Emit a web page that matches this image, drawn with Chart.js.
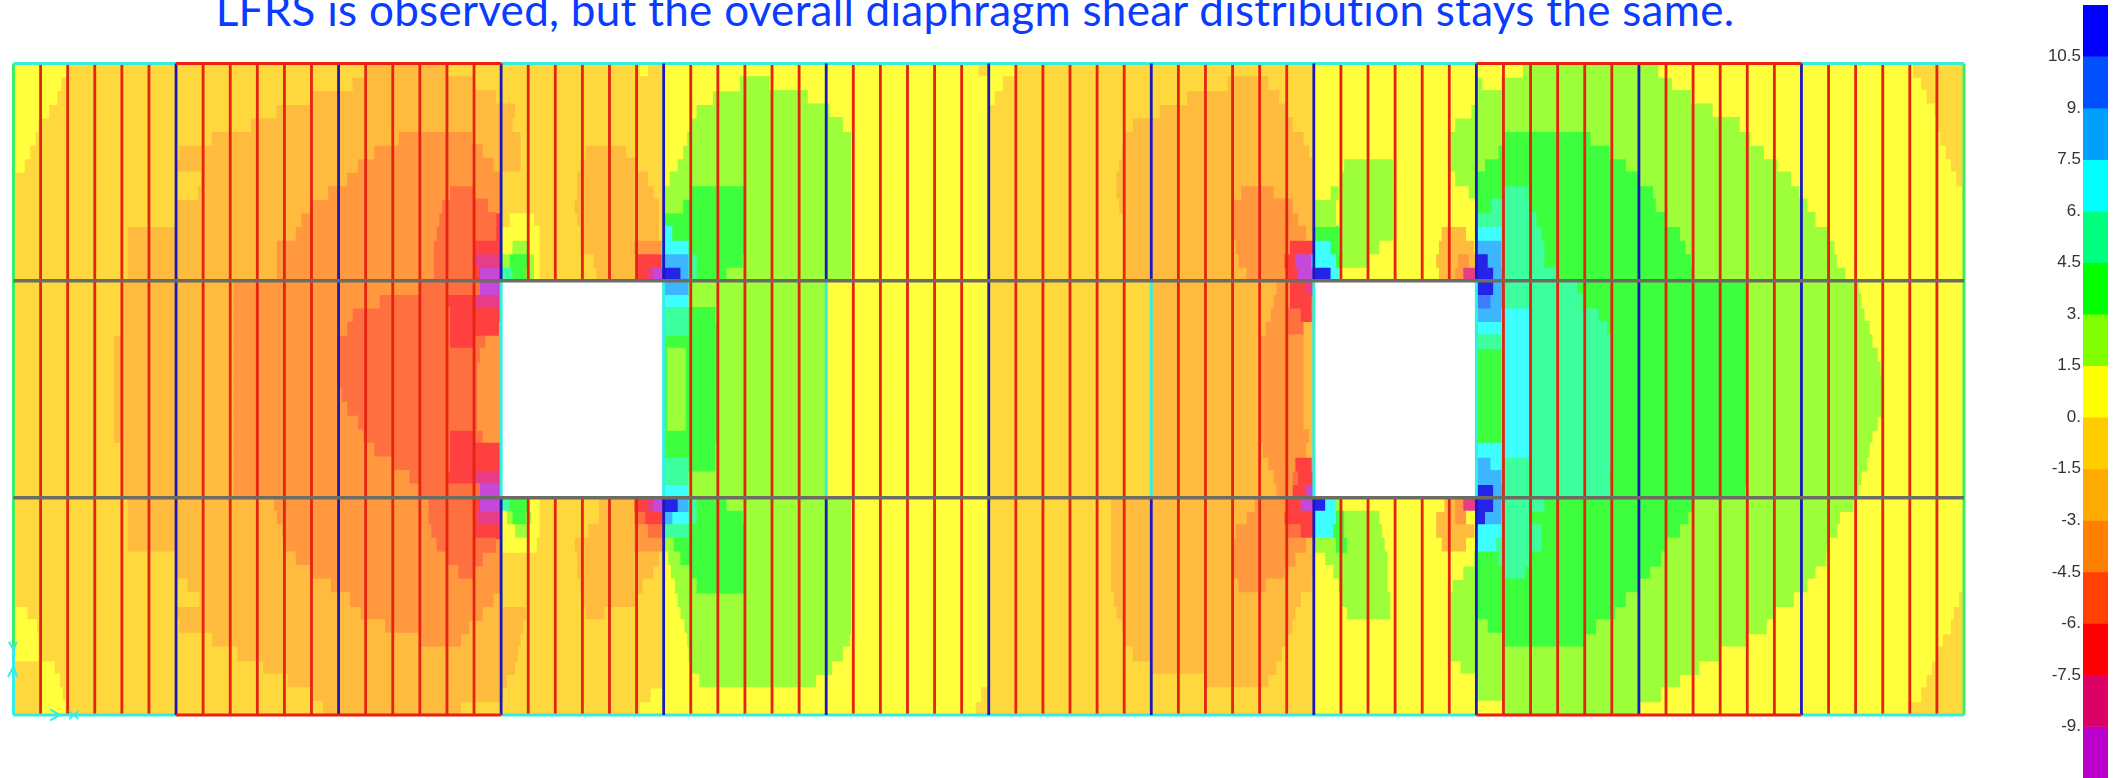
<!DOCTYPE html>
<html><head><meta charset="utf-8">
<style>
html,body{margin:0;padding:0;background:#fff;width:2121px;height:778px;overflow:hidden}
#title{position:absolute;left:0;width:1950px;top:-17px;text-align:center;font:44px Lato,sans-serif;letter-spacing:.28px;color:#0a3cff;white-space:nowrap}
canvas{position:absolute;top:0}
</style>
<script src="https://cdn.jsdelivr.net/npm/chart.js@4"></script>
</head><body>
<div id="title">LFRS is observed, but the overall diaphragm shear distribution stays the same.</div>
<canvas id="plate" width="2121" height="778" style="left:0"></canvas>
<canvas id="scale" width="121" height="778" style="left:2000px"></canvas>
<script>
// contour bands, highest to lowest
const bandKeys = ['a','b','c','d','e','f','g','h','i','j','k','l','m','n','o'];
const bandHigh = [12,10.5,9,7.5,6,4.5,3,1.5,0,-1.5,-3,-4.5,-6,-7.5,-9];
const bandLow  = [10.5,9,7.5,6,4.5,3,1.5,0,-1.5,-3,-4.5,-6,-7.5,-9,-10.5];
const legendColors = ['#0000ff','#0050ff','#00a0ff','#00ffff','#00ff80','#00ff00','#80ff00','#ffff00','#ffcc00','#ffaa00','#ff8000','#ff4000','#ff0000','#dd0066','#bb00cc'];
const plateColors  = ['#2424e8','#3d7bff','#3db5ff','#3dffff','#3dff9e','#3dff3d','#9cff3a','#ffff3d','#ffd83d','#ffbb3d','#ff983f','#ff7040','#ff4040','#e63d86','#c648d8'];
const tickValues = [10.5,9,7.5,6,4.5,3,1.5,0,-1.5,-3,-4.5,-6,-7.5,-9];
const tickLabels = ['10.5','9.','7.5','6.','4.5','3.','1.5','0.','-1.5','-3.','-4.5','-6.','-7.5','-9.'];

// one row per mesh row: band letter + the strip position where that band ends ("_" = opening)
const contourRows = [
"i1 h1.9 i11.4 j16.5 i23.1 h35.5 i48 h55 g60 h69.9 i72",
"i1 h1.8 i11 j18 i23.5 h35.7 i48 h54 g60.8 h70.4 i72",
"i1 h1.7 i10.1 j18.2 i24 h25.3 g29.6 h36 i44 j46.3 i48 h54 g61.5 h70.6 i72",
"i1 h1.5 i9.2 j18.5 i24 h25 g30.2 h36 i42 j46.6 i48 h53.4 g62.2 h70.8 i72",
"h0.9 i8.25 j18.6 i24 h24.9 g30.6 h36 i41.3 j46.8 i48 h53 g63 h71 i72",
"h0.9 i7.3 j15 k16.5 j18.7 i24 h24.85 g30.85 h36 i41 j47 i48 h53 g55 f58 g64 h71.2 i72",
"h0.85 i6.1 j13.7 k16.8 j18.8 i24 h24.75 g30.9 h36 i40.9 j47.2 i48 h53 g54.4 f58.4 g64.7 h71.5 i72",
"h0.5 i6 j12.8 k17.3 j18.9 i21.1 j21.8 i24 h24.6 g30.9 h36 i40.7 j47.3 i48 h49.2 g50.8 h53 g54 f59.1 g65 h71.6 i72",
"i6.85 j12.4 k17.7 j18 i21 j23 i24 h24.5 g30.9 h36 i40.6 j47.5 i48 h49 g50.8 h53 g54 f59.5 g65.7 h71.8 i72",
"i6.4 j11.7 k18 i20.9 j23.2 i24 h24.4 g25.2 f27 g30.9 h36 i40.5 j45.2 k46.2 j47.9 i48 h48.9 g50.7 h53.1 g54 f60 g66.2 h71.95 i72",
"i6 j11 k16.4 l17 k18 i20.8 j23.6 i24 h24.25 g25 f27 g30.9 h36 i40.5 j45 k46.9 j48 h48.7 g50.7 h53.5 g54 f55 e55.8 f60.4 g66.5 h72",
"i6 j10.4 k16 l17.3 k18 i20.8 j23.8 i24 h24.15 g24.6 f27 g30.9 h36 i40.5 j45 k47.3 j48 h48.4 g50.7 h53.9 g54 f54.8 e56 f60.8 g66.9 h72",
"i4.2 j10 k15.6 l17.8 k18 h19.3 i20.7 j22.9 k24 g24.35 f27 g30.9 h36 i40.5 j45 k47.7 j48 g48.8 f49.2 g50.6 h52.7 j53.6 h54 d54.7 e56.4 f61 g67 h72",
"i4.2 j9.9 k15.4 l16.96 m18 h18.5 g19 h19.4 i21.2 j22.9 k23.4 l24 e24.9 f27 g30.9 h36 i40.5 j45.1 k47 l47.5 m48 d48.7 f49.1 g50.5 h52.5 j53.9 h54 d54.9 e56.4 f61.5 g67.3 h72",
"i4.2 j9.7 k15.3 l16.96 m17.09 n18 h18.2 g18.4 f18.9 g19.1 h19.4 i21.6 j22.9 l23.3 m24 c24.3 d24.9 e25.2 f26.9 g30.9 h36 i40.5 j45.5 k46.9 m48 d48.8 f49.1 g50.4 h52.5 j53.2 k53.6 h54 a54.3 c54.9 e56 f61.8 g67.4 h72",
"i4.2 j9.6 k15.3 l16.96 m17.2 o17.9 m18 e18.3 f19 h19.4 i21.6 j22.9 m23.4 n23.6 o23.95 a24.5 c24.9 e25.2 f26.3 g30.9 h36 i40.5 j45.8 k47 m47.5 o48 a48.4 d48.8 g49 h52.8 j53.2 k53.5 n53.95 a54.6 c54.9 e56.5 f62 g67.9 h72",
"i4 j8.1 k15 l17.2 o17.9 n18 _24 d24.9 g30 h36 i42 j46.6 k47.2 m47.7 o48 _54 a54.6 c55 e59 f63.9 g68.1 h72",
"i4 j8.1 k14.6 l16 m17 n18 _24 e24.9 g30 h36 i42 j46.5 k47.2 l47.4 m48 _54 c54.9 e58.9 f64 g68.2 h72",
"i4 j8.1 k14 l16.1 m18 _24 e24.9 f25.9 g30 h36 i42 j46.3 k47.3 m47.9 k48 _54 c54.5 d54.9 e59 f64 g68.4 h72",
"i4 j8.1 k13.3 l16.1 m18 _24 f25.9 g30 h36 i42 j46.1 k47.7 j48 _54 d56 e59 f64 g68.5 h72",
"i3.7 j8.1 k12.9 l16.1 m17 l17.3 k18 _24 f26 g30 h36 i42 j46 k47.8 j48 _54 f54.9 d56 e59 f64 g68.6 h72",
"i3.7 j8.1 k12.7 l17.1 k18 _24 f24.1 g24.8 f26 g30 h36 i42 j46 k47.6 j48 _54 f54.9 d56 e59 f64 g68.8 h72",
"i3.7 j8.1 k12.3 l17.1 k18 _24 f24.1 g24.8 f26 g30 h36 i42 j46 k47.6 j48 _54 f54.9 d56 e59 f64 g69 h72",
"i3.7 j8.1 k12.1 l17.1 k18 _24 f24.1 g24.8 f26 g30 h36 i42 j46 k47.6 j48 _54 f54.9 d56 e59 f64 g69 h72",
"i3.7 j8.1 k12 l17.1 k18 _24 f24.1 g24.8 f26 g30 h36 i42 j46 k47.6 j48 _54 f54.9 d56 e59 f64 g69 h72",
"i3.7 j8.1 k12 l17.1 k18 _24 f24.1 g24.8 f26 g30 h36 i42 j46 k47.6 j48 _54 f54.9 d56 e59 f64 g68.9 h72",
"i3.7 j8.1 k12 l17.2 k18 _24 f24.1 g24.8 f26 g30 h36 i42 j46 k47.6 j48 _54 f54.9 d56 e59 f64 g68.8 h72",
"i3.7 j8.1 k12 l16.1 m17 l17.4 k18 _24 f26 g30 h36 i42 j46 k47.6 j48 _54 e54.9 d56 e59 f64 g68.6 h72",
"i4 j8.1 k12.3 l16.1 m17.9 k18 _24 e24.9 f26 g30 h36 i42 j46.2 k47 l47.6 j48 _54 d56 e58.8 f64 g68.5 h72",
"i4 j8.1 k12.5 l16.1 m18 _24 e24.9 f25.9 g30 h36 i42 j46.4 k47 l47.5 m47.9 k48 _54 c54.9 d56 e58.5 f64 g68.3 h72",
"i4 j8.1 k13.5 l16 m17 n18 _24 d24.9 g30 h36 i42 j46.5 k47.1 m47.9 k48 _54 b54.5 c55 e57.9 f64 g68.2 h72",
"i4 j8.1 k15 l17.2 o17.9 n18 _24 c24.9 g30 h36 i42 j46.6 k47.1 m47.7 n48 _54 a54.6 c55 e57.7 f64 g68.1 h72",
"i4.2 j9.7 k15.5 l16.96 m17.2 o17.9 m18 e18.4 f18.9 g19.2 h19.4 i21.5 j23 m23.4 n23.6 o23.95 a24.6 c24.9 e25.2 f26.3 g30.9 h36 i41 j45.5 k47 m47.4 o48 a48.6 d48.9 h52.6 j53.2 k53.5 n53.95 a54.6 c55 e56.9 f62 g67.6 h72",
"i4.2 j9.7 k15.5 l17 n17.9 m18 g18.3 f19 g19.2 h19.4 i21.4 j23 m23.9 c24.9 e25.2 f26.9 g30.9 h36 i41 j45.2 k46.9 m47.3 o47.9 d48.8 f49 g50 h52.5 j53.3 k53.7 j54 a54.4 c54.9 e56.5 f61.9 g67.3 h72",
"i4.2 j9.7 k15.5 l17 m18 h18.4 g19 h19.4 i20.9 j22.9 k23.9 d24.9 f27 g30.9 h36 i41 j45.1 k47.1 m48 d48.6 f48.9 g50.4 h52.6 j53.9 h54 c54.9 e56.5 f61.7 g67.2 h72",
"i4.2 j10.4 k15.6 l17.8 m18 h19.4 i20.9 j23.8 i24 d24.3 f27 g30.9 h36 i41 j45 k47.7 j48 f48.9 g50.9 h52.7 j53.6 h54 d54.9 e56.4 f61.5 g67 h72",
"i6 j10.6 k15.7 l17.8 m18 i18.3 h19.2 i20.8 j23.8 i24 f27 g30.9 h36 i41 j45 k47.4 j48 g48.8 h49 g50.9 h54 e56.2 f61 g66.5 h72",
"i6 j11 k15.8 l17.5 k18 i20.7 j23.8 i24 g24.7 f27 g30.9 h36 i40.8 j45 k47.2 j48 g48.8 h49 g50.9 h54 f54.5 e56 f60.6 g66.2 h72",
"i6.8 j11.6 k16.1 l17 k18 i20.8 j23.6 i24 g25 f27 g30.9 h36 i40.7 j45.3 k46.5 j48 h48.6 g48.9 h49 g50.9 h53.7 g54 f55 e55.9 f60.5 g65.9 h71.9 i72",
"i6.9 j12.3 k18 i20.8 j23.4 i24 h24.2 g30.9 h36 i40.7 j48 h49 g50.9 h53.2 g54 f60 g65.6 h71.7 i72",
"h0.4 i6 j12.7 k17.7 j18.7 i20.9 j23 i24 h24.5 g30.9 h36 i40.8 j48 h49.1 g50.9 h53 g54.3 f59.5 g65.1 h71.5 i72",
"h0.6 i6.1 j13.3 k17.3 j18.7 i21.1 j22.6 i24 h24.7 g30.9 h36 i40.9 j47.8 i48 h53 g54.8 f58.9 g64.6 h71.3 i72",
"h0.8 i7.3 j14.2 k16.9 j18.7 i24 h24.85 g30.9 h36 i41 j47.6 i48 h53 g55 f58.2 g64.1 h71.1 i72",
"h0.9 i8.75 j18.4 i24 h25 g30.6 h36 i41.3 j47.2 i48 h53.2 g63.7 h71 i72",
"h1.3 i9.7 j18.5 i24 h25.2 g30.1 h36 i42.3 j47 i48 h53.8 g62.7 h70.9 i72",
"h1.6 i11 j17.8 i24 h25.8 g29.3 h36.2 i43.3 j46.7 i48 h54 g61.9 h70.6 i72",
"h1.75 i12.5 j17 i24 h26.8 g27.9 h36.5 i44.8 j46.3 i48 h54 g54.2 h54.9 g61.2 h70.4 i72",
"h1.95 i13 j16 i23.1 h23.4 i24 h35.6 i36 h37 i48 h55.7 g60.7 h70.1 i72"
];

// framing: strip positions and mesh-row positions of the structural lines
const stripCount = 72, rowCount = 48;
const panelRows = [0,16,32,48];
const redStrips = [1,2,3,4,5,7,8,9,10,11,13,14,15,16,17,25,26,27,28,29,31,32,33,34,35,37,38,39,40,41,43,44,45,46,47,55,56,57,58,59,61,62,63,64,65,67,68,69,70,71];
const openingRedStrips = [19,20,21,22,23,49,50,51,52,53];
const blueStrips = [6,12,36,60,66];
const blueBrokenStrips = [18,24,30,42,48,54];
const cyanEdges = [[0,6],[18,54],[66,72]];
const redEdges = [[6,18],[54,66]];

const rowLabels = contourRows.map((_, i) => 'row ' + (i + 1));
const parsedRows = contourRows.map(r => {
  let start = 0;
  return r.split(' ').map(tok => {
    const span = {band: tok[0], from: start, to: parseFloat(tok.slice(1))};
    start = span.to;
    return span;
  });
});
const maxSpans = Math.max(...parsedRows.map(r => r.length));
const barSets = [];
for (let k = 0; k < maxSpans; k++) {
  barSets.push({
    type: 'bar', indexAxis: 'y', xAxisID: 'x', yAxisID: 'y', order: 5, grouped: false,
    barPercentage: 1.03, categoryPercentage: 1, borderWidth: 0, inflateAmount: 0.5,
    data: parsedRows.map(r => (r[k] && r[k].band !== '_') ? [r[k].from, r[k].to] : null),
    backgroundColor: parsedRows.map(r => r[k] && r[k].band !== '_' ? plateColors[bandKeys.indexOf(r[k].band)] : 'rgba(0,0,0,0)')
  });
}
const gap = s => ({x: s, y: NaN});
function vSegs(strips, ranges) {
  const pts = [];
  strips.forEach(s => ranges.forEach(([a,b]) => { pts.push({x:s,y:a},{x:s,y:b},gap(s)); }));
  return pts;
}
function hSegs(edges, rows) {
  const pts = [];
  rows.forEach(y => edges.forEach(([a,b]) => { pts.push({x:a,y},{x:b,y},{x:b,y:NaN}); }));
  return pts;
}
const lineSet = (data, color, width, order) => ({
  type: 'line', indexAxis: 'x', xAxisID: 'x', yAxisID: 'yLine', order,
  data, borderColor: color, borderWidth: width, pointRadius: 0, spanGaps: false,
  tension: 0, fill: false, clip: false, borderCapStyle: 'butt'
});
const outerPanels = [[panelRows[0],panelRows[1]],[panelRows[2],panelRows[3]]];
const arrowMarks = [
  {x:-0.17,y:42.6},{x:0,y:43.2},{x:0.12,y:42.6},gap(0),
  {x:-0.2,y:45.2},{x:0,y:44.4},{x:0.13,y:45.2},gap(0),
  {x:1.35,y:47.6},{x:1.72,y:48},{x:1.35,y:48.4},gap(0),
  {x:2.05,y:47.7},{x:2.4,y:48.3},gap(2),{x:2.05,y:48.3},{x:2.4,y:47.7}
];
const lineSets = [
  lineSet(vSegs(redStrips,[[0,48]]), '#e42410', 2.8, 4),
  lineSet(vSegs(openingRedStrips, outerPanels), '#e42410', 2.8, 4),
  lineSet(vSegs(blueStrips,[[0,48]]), '#1a1abc', 2.8, 3),
  lineSet(vSegs(blueBrokenStrips, outerPanels), '#1a1abc', 2.8, 3),
  lineSet(vSegs(blueBrokenStrips,[[16,32]]), '#30f0e0', 3, 3),
  lineSet(hSegs(cyanEdges,[0,48]), '#38ecdc', 3, 3),
  lineSet(hSegs(redEdges,[0,48]), '#e8200e', 3, 2),
  lineSet(vSegs([0],[[0,43]]).concat(vSegs([72],[[0,48]])), '#38f060', 3, 3),
  lineSet(vSegs([0],[[43,48]]), '#38ecec', 3, 3),
  lineSet(hSegs([[0,72]],[16,32]), '#6c6c62', 3.5, 1),
  lineSet(arrowMarks, '#38ecec', 2, 1)
];

new Chart(document.getElementById('plate'), {
  type: 'bar',
  data: {labels: rowLabels, datasets: [...barSets, ...lineSets]},
  options: {
    responsive: false, animation: false, events: [],
    layout: {padding: {left: 13.5, right: 157, top: 63.5, bottom: 63}},
    plugins: {legend: {display: false}, tooltip: {enabled: false}},
    scales: {
      x: {type: 'linear', min: 0, max: stripCount, offset: false, display: false},
      y: {type: 'category', offset: true, reverse: true, display: false},
      yLine: {type: 'linear', axis: 'y', min: 0, max: rowCount, reverse: true, display: false}
    }
  }
});

new Chart(document.getElementById('scale'), {
  type: 'bar',
  data: {
    labels: ['shear'],
    datasets: bandKeys.map((k, i) => ({
      label: k, data: [[bandLow[i], bandHigh[i]]], backgroundColor: legendColors[i],
      grouped: false, barPercentage: 1, categoryPercentage: 1, borderWidth: 0
    }))
  },
  options: {
    responsive: false, animation: false, events: [],
    layout: {autoPadding: false, padding: {left: 0, right: 13, top: 5, bottom: 0}},
    plugins: {legend: {display: false}, tooltip: {enabled: false}},
    scales: {
      x: {display: false},
      y: {
        min: -10.5, max: 12, position: 'left', offset: false,
        afterFit: s => { s.width = 83; s.paddingTop = 0; s.paddingBottom = 0; },
        grid: {display: false, drawTicks: false}, border: {display: false},
        ticks: {
          stepSize: 1.5, autoSkip: false, padding: 2, color: '#333333',
          font: {family: '"Liberation Sans", Arial, sans-serif', size: 17},
          callback: v => { const i = tickValues.indexOf(v); return i < 0 ? '' : tickLabels[i]; }
        }
      }
    }
  }
});
</script>
</body></html>
